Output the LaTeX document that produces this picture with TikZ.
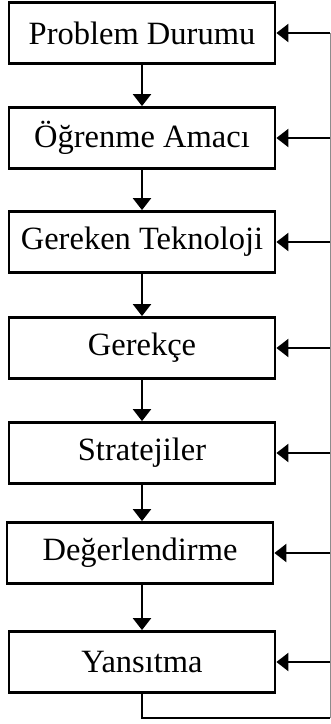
\documentclass[tikz,border=0pt]{standalone}
\usepackage{fontspec}
\setmainfont{Liberation Serif}
\usetikzlibrary{arrows.meta}
\begin{document}
\begin{tikzpicture}[x=1pt, y=-1pt,
    stepbox/.style={draw, line width=2.8pt, minimum width=266pt, minimum height=61pt, inner sep=0pt, font=\fontsize{32.5}{36}\selectfont},
    arr/.style={line width=2.2pt, -{Triangle[width=18pt,length=12pt]}},
    back/.style={line width=2.2pt}]
  \useasboundingbox (0,0) rectangle (331,724);  % page frame

  % steps
  \node[stepbox] (prob) at (142,33) {Problem Durumu};  % step 1
  \node[stepbox] (amac) at (142,138) {Öğrenme Amacı};  % step 2
  \node[stepbox] (tekn) at (142,242) {Gereken Teknoloji};  % step 3
  \node[stepbox] (gerek) at (142,348) {Gerekçe};  % step 4
  \node[stepbox] (strat) at (142,453) {Stratejiler};  % step 5
  \node[stepbox] (deger) at (140,553) {Değerlendirme};  % step 6
  \node[stepbox] (yans) at (142,662) {Yansıtma};  % step 7

  % downward arrows
  \draw[arr] (prob) -- (amac);
  \draw[arr] (amac) -- (tekn);
  \draw[arr] (tekn) -- (gerek);
  \draw[arr] (gerek) -- (strat);
  \draw[arr] (strat) -- (yans.north |- deger.north);
  \draw[arr] (deger.south -| yans.north) -- (yans);

  % feedback loop
  \coordinate (lbot) at (142,718);  % below last step
  \coordinate (rbot) at (330,718);  % lower right corner
  \coordinate (rtop) at (330,33);  % upper right corner
  \draw[back] (yans) -- (lbot) -- (rbot);  % bottom line
  \draw[black!45, line width=1pt] (rbot) -- (rtop);  % right line

  % arrows back into each step
  \draw[arr] (rtop) -- (prob);
  \draw[arr] (amac -| rtop) -- (amac);
  \draw[arr] (tekn -| rtop) -- (tekn);
  \draw[arr] (gerek -| rtop) -- (gerek);
  \draw[arr] (strat -| rtop) -- (strat);
  \draw[arr] (deger -| rtop) -- (deger);
  \draw[arr] (yans -| rtop) -- (yans);
\end{tikzpicture}
\end{document}
